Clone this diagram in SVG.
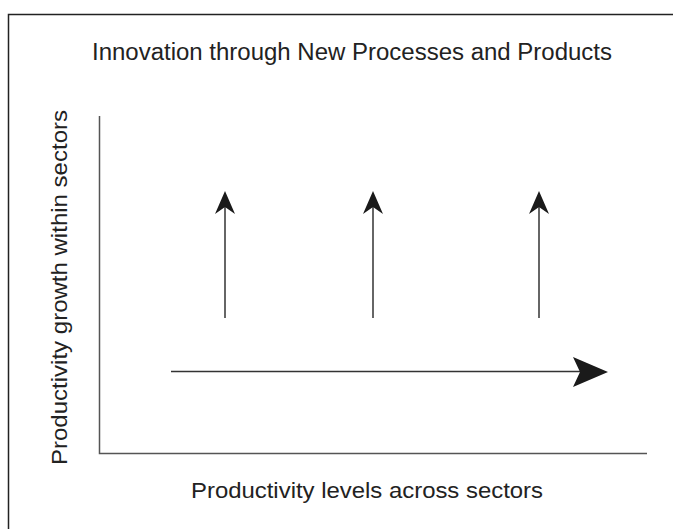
<svg xmlns="http://www.w3.org/2000/svg" width="673" height="529" viewBox="0 0 673 529">
<style>
.t{font-family:"Liberation Sans",Arial,sans-serif;fill:#222;}
.ax{stroke:#555;stroke-width:1.5;fill:none;}
.ln{stroke:#333;stroke-width:1.5;fill:none;}
.hd{fill:#1a1a1a;}
</style>
<rect x="0" y="0" width="673" height="529" fill="#fff"/>
<path d="M8.5 529 V14.5 H673" stroke="#222" stroke-width="1.5" fill="none"/>
<text class="t" x="92" y="60" font-size="23.5" textLength="520" lengthAdjust="spacingAndGlyphs">Innovation through New Processes and Products</text>
<g id="axes">
<path class="ax" d="M99.5 116 V453.5 H647"/>
</g>
<text class="t" x="0" y="0" font-size="22.5" textLength="355" lengthAdjust="spacingAndGlyphs" transform="translate(67,465) rotate(-90)">Productivity growth within sectors</text>
<text class="t" x="191" y="498" font-size="22.5" textLength="352" lengthAdjust="spacingAndGlyphs">Productivity levels across sectors</text>
<g id="connectors">
<g id="arrow1"><line class="ln" x1="225" y1="318" x2="225" y2="205"/><path class="hd" d="M225 191 L235 214 L225 207 L215 214 Z"/></g>
<g id="arrow2"><line class="ln" x1="373" y1="318" x2="373" y2="205"/><path class="hd" d="M373 191 L383 214 L373 207 L363 214 Z"/></g>
<g id="arrow3"><line class="ln" x1="539" y1="318" x2="539" y2="205"/><path class="hd" d="M539 191 L549 214 L539 207 L529 214 Z"/></g>
<g id="arrow4"><line class="ln" x1="171" y1="371.5" x2="585" y2="371.5"/><path class="hd" d="M608 372 L573 357 L580 372 L573 387 Z"/></g>
</g>
</svg>
